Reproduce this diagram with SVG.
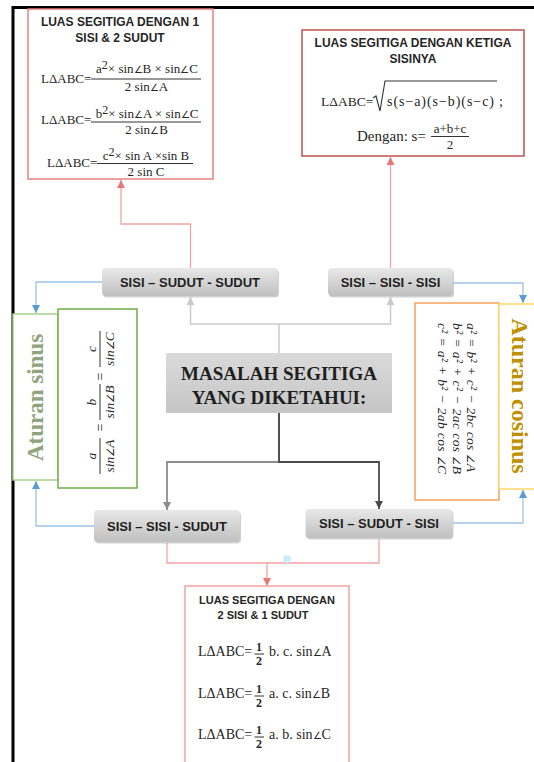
<svg xmlns="http://www.w3.org/2000/svg" width="534" height="762" viewBox="0 0 534 762">
<style>
.ttl{font-family:"Liberation Sans",Arial,sans-serif;font-weight:bold;fill:#262626;text-anchor:middle}
.f{font-family:"Liberation Serif","Times New Roman",serif;fill:#262626}
.fi{font-family:"Liberation Serif","Times New Roman",serif;font-style:italic;fill:#262626}
.m{text-anchor:middle}
.ang{font-size:10px}
.lab{font-family:"Liberation Sans",Arial,sans-serif;font-weight:bold;font-size:13px;fill:#1f1f1f;text-anchor:middle}
.fl{stroke:#333;stroke-width:1}
.box{fill:#fff}
.pk{fill:none;stroke:#f3a3a3;stroke-width:1.3}
.bl{fill:none;stroke:#9dc3e6;stroke-width:1.3}
</style>
<defs>
<linearGradient id="gbox" x1="0" y1="0" x2="0" y2="1"><stop offset="0" stop-color="#e8e8e8"/><stop offset="1" stop-color="#c0c0c0"/></linearGradient>
<linearGradient id="gcen" x1="0" y1="0" x2="0" y2="1"><stop offset="0" stop-color="#dadada"/><stop offset="1" stop-color="#c6c6c6"/></linearGradient>
<marker id="mb" viewBox="0 0 10 10" refX="10" refY="5" markerWidth="8" markerHeight="8" markerUnits="userSpaceOnUse" orient="auto"><path d="M0,0 L10,5 L0,10z" fill="#5b9bd5"/></marker>
<marker id="mp" viewBox="0 0 10 10" refX="10" refY="5" markerWidth="8" markerHeight="8" markerUnits="userSpaceOnUse" orient="auto"><path d="M0,0 L10,5 L0,10z" fill="#e87878"/></marker>
<marker id="mlg" viewBox="0 0 10 10" refX="10" refY="5" markerWidth="8" markerHeight="8" markerUnits="userSpaceOnUse" orient="auto"><path d="M0,0 L10,5 L0,10z" fill="#cacaca"/></marker>
<marker id="mg" viewBox="0 0 10 10" refX="10" refY="5" markerWidth="8" markerHeight="8" markerUnits="userSpaceOnUse" orient="auto"><path d="M0,0 L10,5 L0,10z" fill="#8c8c8c"/></marker>
<marker id="md" viewBox="0 0 10 10" refX="10" refY="5" markerWidth="8" markerHeight="8" markerUnits="userSpaceOnUse" orient="auto"><path d="M0,0 L10,5 L0,10z" fill="#4a4a4a"/></marker>
</defs>
<rect width="534" height="762" fill="#fff"/>
<path d="M13,762 V7.5 H534" fill="none" stroke="#000" stroke-width="3"/>

<g id="connectors">
<path class="pk" d="M190.5,268 V224 H121 V180" marker-end="url(#mp)"/>
<path class="pk" d="M390.5,268 V157" marker-end="url(#mp)"/>
<path class="bl" d="M102,282 H36 V313" marker-end="url(#mb)"/>
<path class="bl" d="M94,526 H36 V481" marker-end="url(#mb)"/>
<path class="bl" d="M453,283 H523 V303" marker-end="url(#mb)"/>
<path class="bl" d="M453,523 H523 V490" marker-end="url(#mb)"/>
<path d="M279,353 V324" fill="none" stroke="#cacaca" stroke-width="1.5"/>
<path d="M279,324 H190.5 V297" fill="none" stroke="#cacaca" stroke-width="1.5" marker-end="url(#mlg)"/>
<path d="M279,324 H390.5 V297" fill="none" stroke="#cacaca" stroke-width="1.5" marker-end="url(#mlg)"/>
<path d="M279,413 V462 H167 V510" fill="none" stroke="#8c8c8c" stroke-width="1.8" marker-end="url(#mg)"/>
<path d="M279,413 V462 H379 V509" fill="none" stroke="#4a4a4a" stroke-width="1.8" marker-end="url(#md)"/>
<path d="M167,543 V563 H379 V539" class="pk"/>
<path d="M267,563 V586" class="pk" marker-end="url(#mp)"/>
<circle cx="287" cy="559" r="4" fill="#c8eff9"/>
</g>

<g id="luas-1sisi-2sudut">
<rect class="box" x="28" y="9" width="185" height="170" stroke="#e57f7f" stroke-width="1.5"/>
<text class="ttl" x="120" y="26" font-size="12">LUAS SEGITIGA DENGAN 1</text>
<text class="ttl" x="120" y="42" font-size="12">SISI &amp; 2 SUDUT</text>
<text class="f" x="41" y="83" font-size="13">LΔABC=</text>
<text class="f m" x="147" y="73" font-size="13">a<tspan font-size="12" dy="-4">2</tspan><tspan dy="4">× sin</tspan><tspan class="ang">∠</tspan>B × sin<tspan class="ang">∠</tspan>C</text>
<line class="fl" x1="91" y1="79" x2="201" y2="79"/>
<text class="f m" x="146.5" y="91" font-size="13">2 sin<tspan class="ang">∠</tspan>A</text>
<text class="f" x="41" y="124" font-size="13">LΔABC=</text>
<text class="f m" x="147" y="117.5" font-size="13">b<tspan font-size="12" dy="-4">2</tspan><tspan dy="4">× sin</tspan><tspan class="ang">∠</tspan>A × sin<tspan class="ang">∠</tspan>C</text>
<line class="fl" x1="91" y1="122" x2="201" y2="122"/>
<text class="f m" x="146.5" y="133.5" font-size="13">2 sin<tspan class="ang">∠</tspan>B</text>
<text class="f" x="47" y="167" font-size="13">LΔABC=</text>
<text class="f m" x="146" y="159.5" font-size="13">c<tspan font-size="12" dy="-4">2</tspan><tspan dy="4">× sin A ×sin B</tspan></text>
<line class="fl" x1="97" y1="163.5" x2="193" y2="163.5"/>
<text class="f m" x="146" y="176" font-size="13">2 sin C</text>
</g>

<g id="luas-3sisi">
<rect class="box" x="302" y="30" width="222" height="126" stroke="#c0504d" stroke-width="1.5"/>
<text class="ttl" x="413" y="46.5" font-size="12">LUAS SEGITIGA DENGAN KETIGA</text>
<text class="ttl" x="413" y="62.5" font-size="12">SISINYA</text>
<text class="f" x="321" y="106" font-size="13.5">LΔABC=</text>
<path d="M373,98 L376,96 L380,111 L385,81 H497" fill="none" stroke="#333" stroke-width="1.1"/>
<text class="f" x="387" y="106" font-size="14" textLength="107" lengthAdjust="spacing">s(s−a)(s−b)(s−c)</text>
<text class="f" x="499" y="106" font-size="14">;</text>
<text class="f" x="357" y="141" font-size="15">Dengan: s=</text>
<text class="f m" x="450" y="133" font-size="13">a+b+c</text>
<line class="fl" x1="431" y1="136.5" x2="469" y2="136.5"/>
<text class="f m" x="450" y="149" font-size="13">2</text>
</g>

<g id="sisi-sudut-sudut">
<rect x="103" y="269.5" width="176" height="28" rx="4" fill="#9a9a9a" opacity="0.45"/>
<rect x="102" y="268" width="176" height="28" rx="4" fill="url(#gbox)"/>
<text class="lab" x="190" y="287">SISI – SUDUT - SUDUT</text>
</g>

<g id="sisi-sisi-sisi">
<rect x="329" y="269.5" width="125" height="28" rx="4" fill="#9a9a9a" opacity="0.45"/>
<rect x="328" y="268" width="125" height="28" rx="4" fill="url(#gbox)"/>
<text class="lab" x="390.5" y="287">SISI – SISI - SISI</text>
</g>

<g id="aturan-sinus">
<rect x="13" y="314" width="45" height="166" fill="#fff" stroke="#a9d18e" stroke-width="1.5"/>
<text transform="translate(43,397.5) rotate(-90)" text-anchor="middle" font-family="'Liberation Serif','Times New Roman',serif" font-weight="bold" font-size="23" fill="#8fa47c">Aturan sinus</text>
</g>

<g id="rumus-sinus">
<rect x="58" y="309" width="79" height="179" fill="#fff" stroke="#70ad47" stroke-width="1.5"/>
<g transform="translate(100,402) rotate(-90)">
<text class="fi m" x="-54" y="-4" font-size="13.5">a</text>
<line class="fl" x1="-72" y1="0" x2="-36" y2="0"/>
<text class="fi m" x="-54" y="14" font-size="13.5">sin<tspan class="ang">∠</tspan>A</text>
<text class="f m" x="-25.5" y="4.5" font-size="14">=</text>
<text class="fi m" x="0" y="-4" font-size="13.5">b</text>
<line class="fl" x1="-18" y1="0" x2="18" y2="0"/>
<text class="fi m" x="0" y="14" font-size="13.5">sin<tspan class="ang">∠</tspan>B</text>
<text class="f m" x="25.5" y="4.5" font-size="14">=</text>
<text class="fi m" x="53" y="-4" font-size="13.5">c</text>
<line class="fl" x1="35" y1="0" x2="71" y2="0"/>
<text class="fi m" x="53" y="14" font-size="13.5">sin<tspan class="ang">∠</tspan>C</text>
</g>
</g>

<g id="masalah-segitiga">
<rect x="166" y="353" width="226" height="60" fill="url(#gcen)"/>
<text x="279" y="380" text-anchor="middle" font-family="'Liberation Serif','Times New Roman',serif" font-weight="bold" font-size="19" fill="#1f1f1f">MASALAH SEGITIGA</text>
<text x="279" y="404" text-anchor="middle" font-family="'Liberation Serif','Times New Roman',serif" font-weight="bold" font-size="19" fill="#1f1f1f">YANG DIKETAHUI:</text>
</g>

<g id="rumus-cosinus">
<rect x="415" y="303" width="84" height="197" fill="#fff" stroke="#f4a15d" stroke-width="1.5"/>
<g transform="translate(467,323) rotate(90)">
<text class="fi" x="0" y="0" font-size="13.5" textLength="149" lengthAdjust="spacing">a² = b² + c² − 2bc cos <tspan class="ang">∠</tspan>A</text>
<text class="fi" x="0" y="14.5" font-size="13.5" textLength="151" lengthAdjust="spacing">b² = a² + c² − 2ac cos <tspan class="ang">∠</tspan>B</text>
<text class="fi" x="0" y="29" font-size="13.5" textLength="151" lengthAdjust="spacing">c² = a² + b² − 2ab cos <tspan class="ang">∠</tspan>C</text>
</g>
</g>

<g id="aturan-cosinus">
<rect x="499" y="304" width="40" height="185" fill="#fff" stroke="#ffd966" stroke-width="1.5"/>
<text transform="translate(512,396) rotate(90)" text-anchor="middle" font-family="'Liberation Serif','Times New Roman',serif" font-weight="bold" font-size="24" fill="#bf9000">Aturan cosinus</text>
</g>

<g id="sisi-sisi-sudut">
<rect x="95" y="511.5" width="146" height="32" rx="4" fill="#9a9a9a" opacity="0.45"/>
<rect x="94" y="510" width="146" height="32" rx="4" fill="url(#gbox)"/>
<text class="lab" x="167" y="531">SISI – SISI - SUDUT</text>
</g>

<g id="sisi-sudut-sisi">
<rect x="306.5" y="510.5" width="147" height="29" rx="4" fill="#9a9a9a" opacity="0.45"/>
<rect x="305.5" y="509" width="147" height="29" rx="4" fill="url(#gbox)"/>
<text class="lab" x="379" y="528">SISI – SUDUT - SISI</text>
</g>

<g id="luas-2sisi-1sudut">
<rect class="box" x="185" y="586" width="164" height="190" stroke="#f2a3a3" stroke-width="1.5"/>
<text class="ttl" x="267" y="604" font-size="11">LUAS SEGITIGA DENGAN</text>
<text class="ttl" x="263" y="618.5" font-size="11">2 SISI &amp; 1 SUDUT</text>
<text class="f" x="198" y="656" font-size="14">LΔABC=</text>
<text class="f m" x="259" y="651" font-size="12" font-weight="bold">1</text>
<line class="fl" x1="254.5" y1="654" x2="264" y2="654"/>
<text class="f m" x="259" y="665" font-size="12" font-weight="bold">2</text>
<text class="f" x="269" y="656" font-size="14">b. c. sin<tspan class="ang" font-size="11">∠</tspan>A</text>
<text class="f" x="198" y="698" font-size="14">LΔABC=</text>
<text class="f m" x="259" y="693" font-size="12" font-weight="bold">1</text>
<line class="fl" x1="254.5" y1="696" x2="264" y2="696"/>
<text class="f m" x="259" y="707" font-size="12" font-weight="bold">2</text>
<text class="f" x="269" y="698" font-size="14">a. c. sin<tspan class="ang" font-size="11">∠</tspan>B</text>
<text class="f" x="198" y="739" font-size="14">LΔABC=</text>
<text class="f m" x="259" y="734" font-size="12" font-weight="bold">1</text>
<line class="fl" x1="254.5" y1="737" x2="264" y2="737"/>
<text class="f m" x="259" y="748" font-size="12" font-weight="bold">2</text>
<text class="f" x="269" y="739" font-size="14">a. b. sin<tspan class="ang" font-size="11">∠</tspan>C</text>
</g>
</svg>
